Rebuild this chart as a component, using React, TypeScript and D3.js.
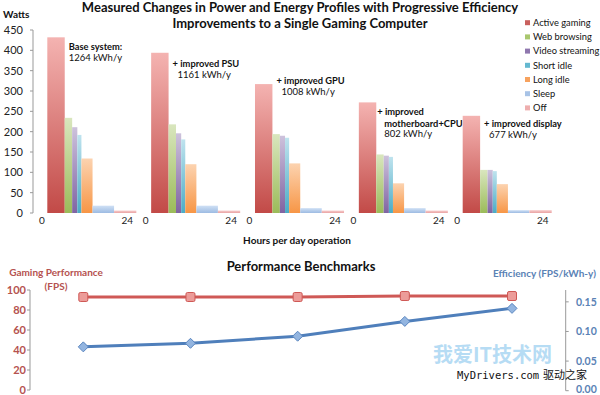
import React from 'react'
import * as d3 from 'd3'

// operating modes and how many hours a day each one runs
const modes = ['Active gaming', 'Web browsing', 'Video streaming', 'Short idle', 'Long idle', 'Sleep', 'Off']
const hoursPerDay = [4.7, 2.0, 1.4, 1.1, 3.0, 5.8, 6.0]

// power draw (W) per mode for each configuration
const baseWatts = [432, 234, 211, 192, 134, 18, 6]
const psuWatts = [394, 218, 196, 181, 120, 18, 6]
const gpuWatts = [317, 194, 190, 185, 122, 12, 6]
const boardWatts = [272, 144, 141, 138, 73, 12, 6]
const displayWatts = [239, 106, 106, 103, 71, 7, 7]
const powerByConfig = [baseWatts, psuWatts, gpuWatts, boardWatts, displayWatts]

const configs = ['Base system', '+ improved PSU', '+ improved GPU', '+ improved motherboard+CPU', '+ improved display']
const noteLines = [['Base system:'], ['+ improved PSU'], ['+ improved GPU'], ['+ improved', 'motherboard+CPU'], ['+ improved display']]
const annualKWh = [1264, 1161, 1008, 802, 677]
const noteAtWatts = [409, 366, 325, 249, 219]
const wattTicks = [0, 50, 100, 150, 200, 250, 300, 350, 400, 450]

// benchmarks
const fps = [93, 93, 93, 94, 94]
const efficiency = [0.074, 0.08, 0.092, 0.117, 0.139]
const fpsTicks = [0, 20, 40, 60, 80, 100]
const effTicks = [0, 0.05, 0.1, 0.15]

const modeColors = [
  ['#f4b3b1', '#c24a47'],
  ['#d9e6be', '#9bbb59'],
  ['#cdc2dc', '#8064a2'],
  ['#bfe3ee', '#4bacc6'],
  ['#fcd3b0', '#f79646'],
  ['#cfe0f5', '#9dbbe2'],
  ['#f6cccc', '#eaa3a3'],
]
const legendColors = ['#c9605d', '#a9c76e', '#8f77ae', '#64b8d0', '#f7a25e', '#a8c3e6', '#eeaeae']

const FONT = 'Lato, "Liberation Sans", sans-serif'
const GROUP_STEP = 28

const App = () => {
  // top chart scales
  const yW = d3.scaleLinear().domain([0, 450]).range([213, 30])
  const xH = d3.scaleLinear().domain([0, GROUP_STEP * 4 + 24]).range([47.3, 551.7])

  // bottom chart scales
  const xP = d3.scalePoint<string>().domain(configs).range([83.3, 512])
  const yF = d3.scaleLinear().domain([0, 100]).range([390, 290])
  const yE = d3.scaleLinear().domain([0, 0.17]).range([390.7, 290])

  const fpsLine = d3.line<number>().x((_, i) => xP(configs[i]) as number).y(d => yF(d))
  const effLine = d3.line<number>().x((_, i) => xP(configs[i]) as number).y(d => yE(d))

  const starts = d3.cumsum([0, ...hoursPerDay.slice(0, -1)])

  return (
    <svg width={600} height={395} style={{ position: 'absolute', left: 0, top: 0, background: '#fff' }} fontFamily={FONT}>
      <defs>
        {modeColors.map((c, i) => (
          <linearGradient key={i} id={`g${i}`} x1="0" y1="0" x2="0" y2="1">
            <stop offset="0%" stopColor={c[0]} />
            <stop offset="100%" stopColor={c[1]} />
          </linearGradient>
        ))}
      </defs>

      {/* titles */}
      <text x={300} y={12} textAnchor="middle" fontWeight="bold" fontSize={13} fill="#111">
        Measured Changes in Power and Energy Profiles with Progressive Efficiency
      </text>
      <text x={300} y={28} textAnchor="middle" fontWeight="bold" fontSize={13} fill="#111">
        Improvements to a Single Gaming Computer
      </text>
      <text x={3} y={18} fontWeight="bold" fontSize={10} fill="#111">Watts</text>

      {/* y axis */}
      <line x1={33} x2={33} y1={yW(450)} y2={yW(0)} stroke="#999" />
      {wattTicks.map(t => (
        <g key={t}>
          <line x1={30} x2={33} y1={yW(t)} y2={yW(t)} stroke="#999" />
          <text x={23} y={yW(t)} dy="0.35em" textAnchor="end" fontSize={11} fill="#222">{t}</text>
        </g>
      ))}

      {/* bars: width is hours, height is watts */}
      {powerByConfig.map((w, gi) => {
        const g0 = gi * GROUP_STEP
        const noteX = xH(g0 + hoursPerDay[0]) + (gi === 3 ? 1 : 4)
        const indent = gi > 0 ? 5 : 0
        return (
          <g key={gi}>
            {w.map((v, mi) => (
              <rect
                key={mi}
                x={xH(g0 + starts[mi])}
                width={xH(g0 + starts[mi] + hoursPerDay[mi]) - xH(g0 + starts[mi])}
                y={yW(v)}
                height={yW(0) - yW(v)}
                fill={`url(#g${mi})`}
              />
            ))}
            <text x={xH(g0) - 5.5} y={224} textAnchor="middle" fontSize={10} fill="#222">0</text>
            <text x={xH(g0 + 24) - 9} y={224} textAnchor="middle" fontSize={10} fill="#222">24</text>
            {noteLines[gi].map((ln, li) => (
              <text
                key={li}
                x={noteX + (li > 0 ? indent + 2 : 0)}
                y={yW(noteAtWatts[gi]) + li * 11.7}
                dy="0.35em"
                fontSize={9.3}
                fontWeight="bold"
                fill="#111"
              >{ln}</text>
            ))}
            <text
              x={noteX + indent + (gi === 3 ? 2 : 0)}
              y={yW(noteAtWatts[gi]) + noteLines[gi].length * 11}
              dy="0.35em"
              fontSize={9.5}
              fill="#111"
            >{annualKWh[gi]} kWh/y</text>
          </g>
        )
      })}

      <text x={297} y={244} textAnchor="middle" fontWeight="bold" fontSize={10} fill="#111">Hours per day operation</text>

      {/* legend */}
      {modes.map((m, i) => (
        <g key={m} transform={`translate(525,${22.7 + i * 14.2})`}>
          <rect x={0} y={-2.5} width={5} height={5} fill={legendColors[i]} />
          <text x={8} y={0} dy="0.35em" fontSize={9.3} fill="#111">{m}</text>
        </g>
      ))}

      {/* benchmarks */}
      <text x={301} y={270.5} textAnchor="middle" fontWeight="bold" fontSize={13} fill="#111">Performance Benchmarks</text>
      <text x={56} y={275.5} textAnchor="middle" fontWeight="bold" fontSize={10} fill="#b5524f">Gaming Performance</text>
      <text x={56} y={289.5} textAnchor="middle" fontWeight="bold" fontSize={10} fill="#b5524f">(FPS)</text>
      <text x={493} y={277} fontWeight="bold" fontSize={10} fill="#5a82b5">Efficiency (FPS/kWh-y)</text>

      <line x1={30} x2={30} y1={yF(100)} y2={yF(0)} stroke="#999" />
      {fpsTicks.map(t => (
        <g key={t}>
          <line x1={27} x2={30} y1={yF(t)} y2={yF(t)} stroke="#999" />
          <text x={26} y={yF(t)} dy="0.35em" textAnchor="end" fontWeight="bold" fontSize={11} fill="#b5524f">{t}</text>
        </g>
      ))}
      <line x1={565.7} x2={565.7} y1={yE(0.17)} y2={yE(0)} stroke="#999" />
      {effTicks.map(t => (
        <g key={t}>
          <line x1={565.7} x2={568.7} y1={yE(t)} y2={yE(t)} stroke="#999" />
          <text x={576} y={Math.min(yE(t), 389.5)} dy="0.35em" fontWeight="bold" fontSize={10.5} fill="#5a82b5">{t.toFixed(2)}</text>
        </g>
      ))}

      <path d={fpsLine(fps) as string} fill="none" stroke="#cf5956" strokeWidth={3} />
      {fps.map((v, i) => (
        <rect key={i} x={(xP(configs[i]) as number) - 4.5} y={yF(v) - 4.5} width={9} height={9} rx={1.5}
          fill="#ec9c99" stroke="#cf5956" strokeWidth={1} />
      ))}
      <path d={effLine(efficiency) as string} fill="none" stroke="#4f7fbb" strokeWidth={3} />
      {efficiency.map((v, i) => {
        const cx = xP(configs[i]) as number
        const cy = yE(v)
        return (
          <path key={i} d={`M${cx},${cy - 5}L${cx + 5},${cy}L${cx},${cy + 5}L${cx - 5},${cy}Z`}
            fill="#93b5e0" stroke="#5a86c0" strokeWidth={1} />
        )
      })}

      {/* watermark */}
      <text x={433} y={362} fontFamily='"Noto Sans CJK SC"' fontWeight="bold" fontSize={20} fill="#7cc0ec" opacity={0.55}>我爱IT技术网</text>
      <text x={457} y={379} fontFamily='"DejaVu Sans Mono", monospace' fontSize={10.5} fill="#111">MyDrivers.com</text>
      <text x={543} y={379} fontFamily='"Noto Sans CJK SC"' fontSize={11} fill="#111">驱动之家</text>
    </svg>
  )
}

export default App
